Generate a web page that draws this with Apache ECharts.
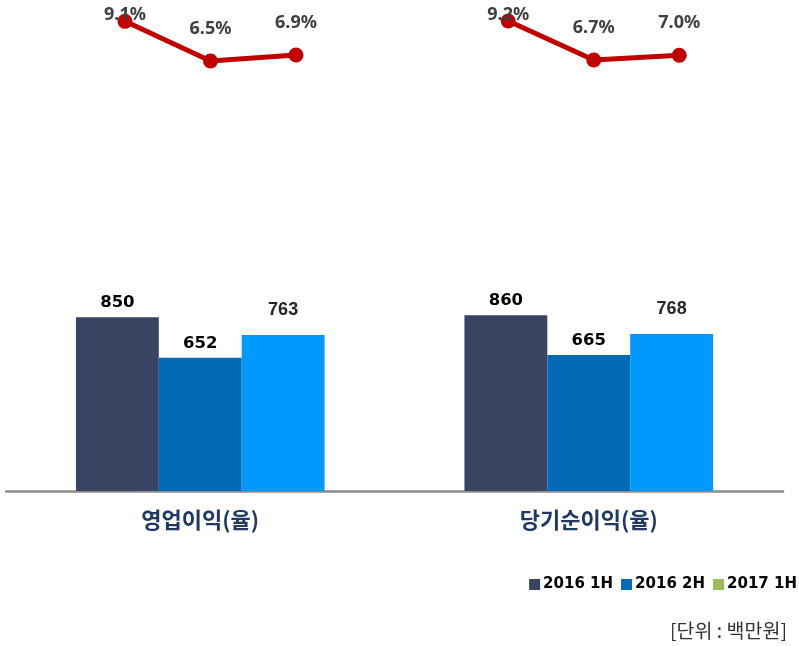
<!DOCTYPE html>
<html>
<head>
<meta charset="utf-8">
<script src="https://cdn.jsdelivr.net/npm/echarts@6/dist/echarts.min.js"></script>
<style>
html,body{margin:0;padding:0;background:#fff;}
#chart{width:799px;height:646px;}
</style>
</head>
<body>
<div id="chart"></div>
<script>
const categories = ['영업이익(율)', '당기순이익(율)'];
const periods = ['2016 1H', '2016 2H', '2017 1H'];
const values2016H1 = [850, 860];
const values2016H2 = [652, 665];
const values2017H1 = [763, 768];
const opMarginRates = [9.1, 6.5, 6.9];
const netMarginRates = [9.2, 6.7, 7.0];
const unitText = '[단위 : 백만원]';

const chart = echarts.init(document.getElementById('chart'), null, {renderer: 'canvas'});

const barLabelBold = {
  show: true, position: 'top', distance: 6,
  fontFamily: 'DejaVu Sans', fontWeight: 'bold', fontSize: 16.5, color: '#000'
};
const barLabelThird = {
  show: true, position: 'top', distance: 16,
  fontFamily: 'Liberation Sans', fontWeight: 'bold', fontSize: 18, color: '#262626'
};

function lineData(arr) {
  return arr.map((v, i) => i === 0
    ? {value: v, label: {position: 'inside', offset: [0, -6]}}
    : v);
}
const lineLabel = {
  show: true, position: 'top', distance: 16,
  fontFamily: 'Noto Sans', fontWeight: 'bold', fontSize: 18, color: '#404040',
  formatter: p => Number(p.value).toFixed(1) + '%'
};

const option = {
  animation: false,
  backgroundColor: '#fff',
  grid: [
    {left: 6, right: 16, top: 286.6, bottom: 155},
    {left: 82.25, width: 256.5, top: 7.6, height: 152.7},
    {left: 465.5, width: 256.5, top: 8.5, height: 156}
  ],
  xAxis: [
    {
      gridIndex: 0, type: 'category', data: categories,
      axisLine: {lineStyle: {color: '#8c8c8c', width: 2.5}},
      axisTick: {show: false},
      axisLabel: {
        margin: 18, fontFamily: 'Noto Sans CJK KR', fontWeight: 'bold',
        fontSize: 22, color: '#1F3864'
      }
    },
    {gridIndex: 1, type: 'category', data: periods, show: false},
    {gridIndex: 2, type: 'category', data: periods, show: false}
  ],
  yAxis: [
    {gridIndex: 0, type: 'value', min: 0, max: 1000, show: false},
    {gridIndex: 1, type: 'value', min: 0, max: 10, show: false},
    {gridIndex: 2, type: 'value', min: 0, max: 10, show: false}
  ],
  legend: {
    right: 2, top: 577, padding: 0,
    itemWidth: 11, itemHeight: 11, itemGap: 8,
    icon: 'rect',
    textStyle: {fontFamily: 'DejaVu Sans', fontWeight: 'bold', fontSize: 15, color: '#000', padding: [0, 0, 0, -2]},
    data: [
      {name: '2016 1H'},
      {name: '2016 2H'},
      {name: '2017 1H', itemStyle: {color: '#9BBB59'}}
    ]
  },
  graphic: [{
    type: 'text', right: 12, top: 621,
    style: {text: unitText, fontFamily: 'Noto Sans CJK KR', fontSize: 19.5, fill: '#333'}
  }],
  series: [
    {
      name: '2016 1H', type: 'bar', xAxisIndex: 0, yAxisIndex: 0,
      data: values2016H1, barGap: '0%', barCategoryGap: '36%',
      itemStyle: {color: '#374462'}, label: barLabelBold
    },
    {
      name: '2016 2H', type: 'bar', xAxisIndex: 0, yAxisIndex: 0,
      data: values2016H2, barGap: '0%', barCategoryGap: '36%',
      itemStyle: {color: '#006AB4'}, label: barLabelBold
    },
    {
      name: '2017 1H', type: 'bar', xAxisIndex: 0, yAxisIndex: 0,
      data: values2017H1, barGap: '0%', barCategoryGap: '36%',
      itemStyle: {color: '#0099FF'}, label: barLabelThird
    },
    {
      name: 'opRate', type: 'line', xAxisIndex: 1, yAxisIndex: 1,
      data: lineData(opMarginRates),
      symbol: 'circle', symbolSize: 15,
      lineStyle: {color: '#C00000', width: 5},
      itemStyle: {color: '#C00000'},
      label: lineLabel, z: 5
    },
    {
      name: 'netRate', type: 'line', xAxisIndex: 2, yAxisIndex: 2,
      data: lineData(netMarginRates),
      symbol: 'circle', symbolSize: 15,
      lineStyle: {color: '#C00000', width: 5},
      itemStyle: {color: '#C00000'},
      label: lineLabel, z: 5
    }
  ]
};
chart.setOption(option);
</script>
</body>
</html>
